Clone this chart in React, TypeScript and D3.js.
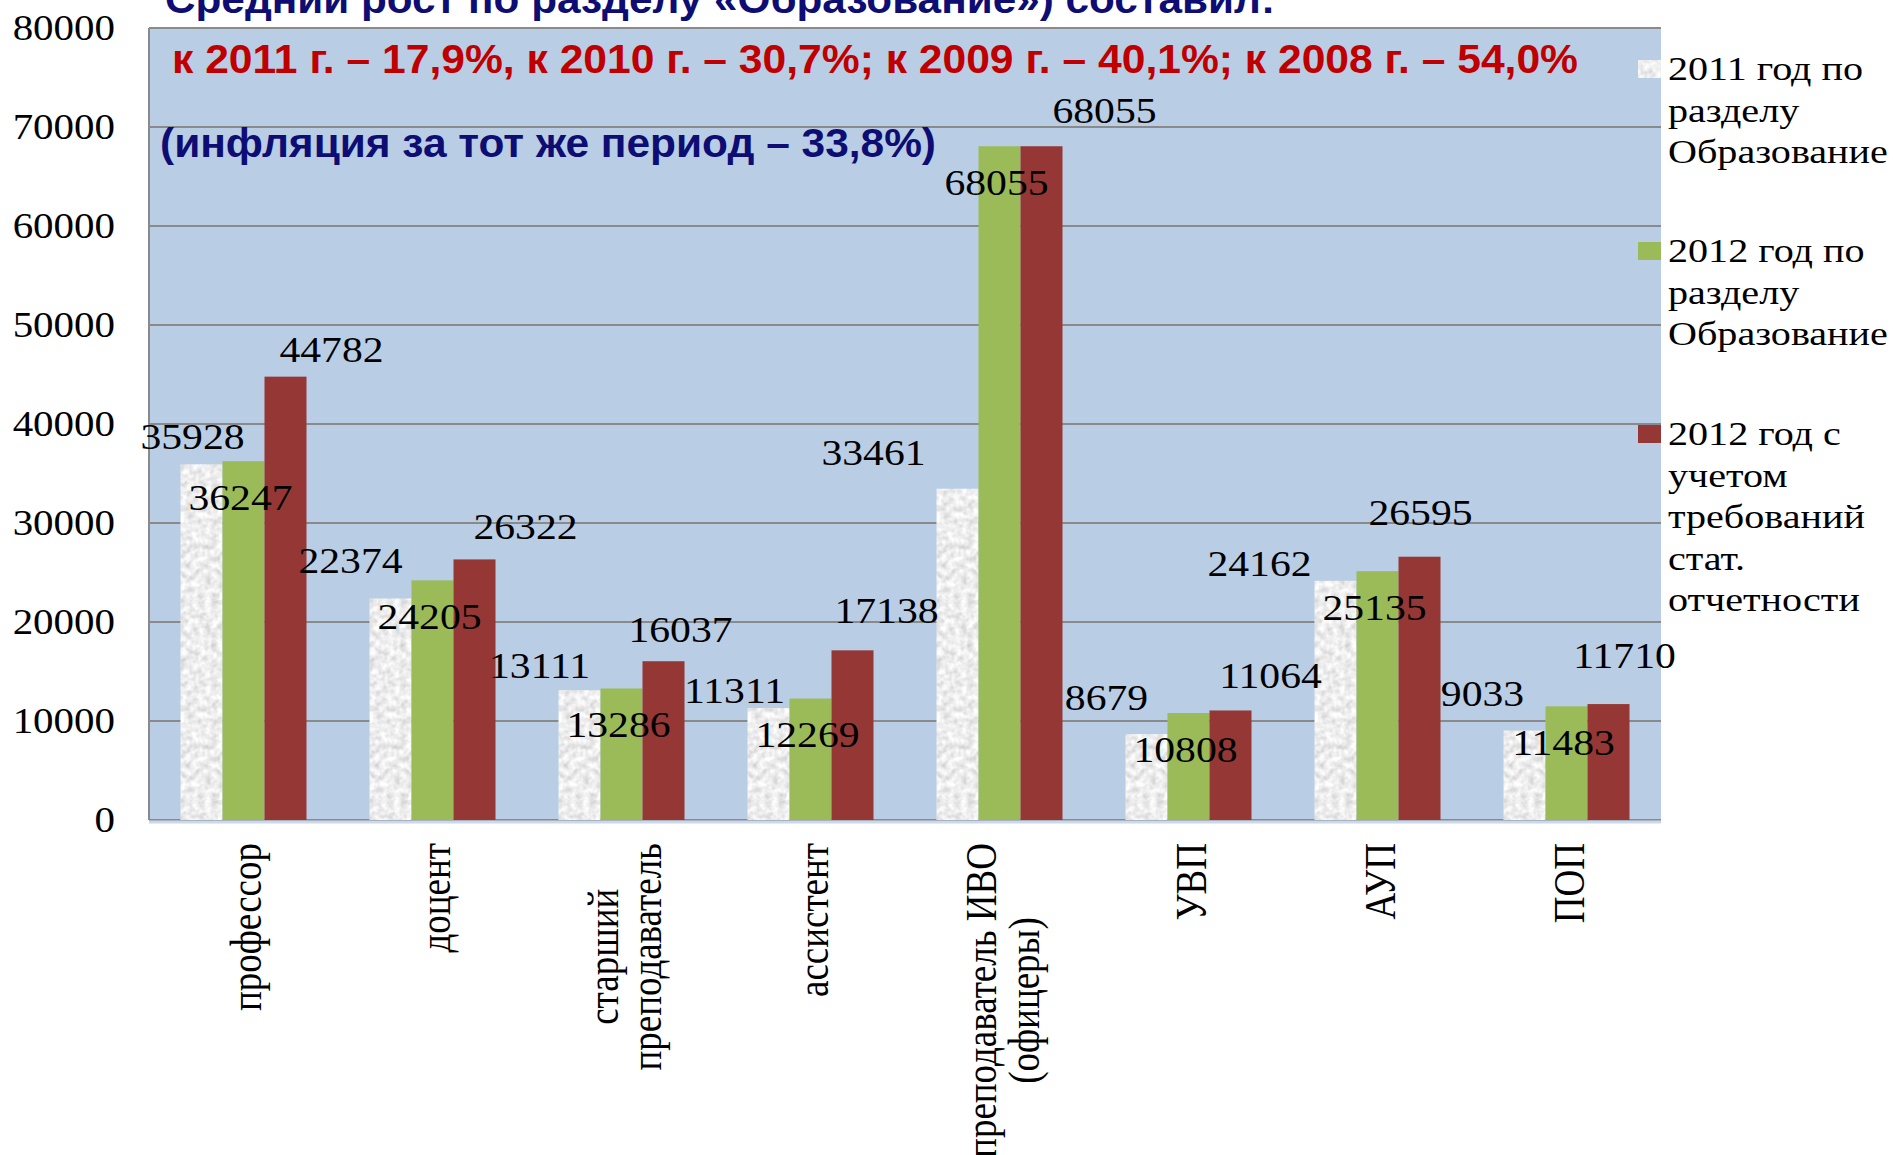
import React from "react";
import * as d3 from "d3";

// ---------- data ----------
const categories = [
  "профессор",
  "доцент",
  "старший\nпреподаватель",
  "ассистент",
  "преподаватель ИВО\n(офицеры)",
  "УВП",
  "АУП",
  "ПОП",
];
const seriesKeys = ["s2011", "s2012", "s2012stat"];
const seriesNames = [
  "2011 год по\nразделу\nОбразование",
  "2012 год по\nразделу\nОбразование",
  "2012 год с\nучетом\nтребований\nстат.\nотчетности",
];
const values2011 = [35928, 22374, 13111, 11311, 33461, 8679, 24162, 9033];
const values2012 = [36247, 24205, 13286, 12269, 68055, 10808, 25135, 11483];
const values2012stat = [44782, 26322, 16037, 17138, 68055, 11064, 26595, 11710];
const yTicks = [0, 10000, 20000, 30000, 40000, 50000, 60000, 70000, 80000];

const titleLine1 = "Средний рост по разделу «Образование») составил:";
const titleLine2 = "к 2011 г. – 17,9%, к 2010 г. – 30,7%; к 2009 г. – 40,1%; к 2008 г. – 54,0%";
const titleLine3 = "(инфляция за тот же период – 33,8%)";

// label nudges (annotation layout, px relative to bar centre / bar top)
const nudge2011 = [[-9, -27], [-40, -37], [-40, -24], [-34, -17], [-84, -36], [-40, -36], [-76, -17], [-42, -36]];
const nudge2012 = [-3, 37];
const nudgeStat = [[46, -27], [51, -32], [17, -31], [34, -39], [63, -35], [40, -34], [1, -44], [16, -48]];

const seriesValues = [values2011, values2012, values2012stat];

// ---------- layout ----------
const W = 1893, H = 1155;
const PL = 149, PR = 1661, PT = 28, PB = 820;
const SERIF = "'Liberation Serif', 'Times New Roman', serif";
const SANS = "'Liberation Sans', Arial, sans-serif";
const colors = ["url(#granite)", "#9BBB59", "#953735"];
const SX = 1.19;

function measure(text: string, font: string) {
  const c = document.createElement("canvas").getContext("2d");
  if (!c) return text.length * 16;
  c.font = font;
  return c.measureText(text).width;
}

export default function App() {
  const y = d3.scaleLinear().domain([0, 80000]).range([PB, PT]);
  const x0 = d3.scaleBand<string>().domain(categories).range([PL, PR]);
  const bw = x0.bandwidth();
  const x1 = d3.scaleBand<string>().domain(seriesKeys).range([bw / 6, (bw * 5) / 6]);
  const barW = x1.bandwidth();

  const catFont = 37;
  const catY = 843;

  return (
    <svg width={W} height={H} style={{ position: "absolute", left: 0, top: 0, background: "#fff" }}>
      <defs>
        <filter id="graniteF" x="0" y="0" width="1" height="1">
          <feTurbulence type="fractalNoise" baseFrequency="0.16" numOctaves="2" seed="4" result="n" />
          <feColorMatrix
            in="n"
            type="matrix"
            values="0.6 0 0 0 0.55  0.6 0 0 0 0.55  0.6 0 0 0 0.55  0 0 0 0 1"
          />
        </filter>
        <pattern id="granite" patternUnits="userSpaceOnUse" width="200" height="200">
          <rect width="200" height="200" fill="#fff" filter="url(#graniteF)" />
        </pattern>
      </defs>

      {/* plot background */}
      <rect x={PL} y={PT} width={PR - PL} height={PB - PT} fill="#B9CDE5" />
      {/* gridlines */}
      {yTicks.map((t) => (
        <line key={t} x1={PL} x2={PR} y1={y(t)} y2={y(t)} stroke="#8A8A8A" strokeWidth={2} />
      ))}
      <line x1={PL} x2={PL} y1={PT} y2={PB} stroke="#8A8A8A" strokeWidth={2} />
      <line x1={PL} x2={PR} y1={PB + 2} y2={PB + 2} stroke="#C9D8EC" strokeWidth={3} />

      {/* y tick labels */}
      {yTicks.map((t) => (
        <text
          key={t}
          transform={`translate(115,${y(t)}) scale(1.17,1)`}
          textAnchor="end"
          dy="0.34em"
          fontFamily={SERIF}
          fontSize={35}
          fill="#000"
        >
          {t}
        </text>
      ))}

      {/* bars */}
      {categories.map((c, i) => (
        <g key={c} transform={`translate(${x0(c)},0)`}>
          {seriesKeys.map((k, s) => {
            const v = seriesValues[s][i];
            return (
              <rect
                key={k}
                x={x1(k)}
                y={y(v)}
                width={barW}
                height={y(0) - y(v)}
                fill={colors[s]}
              />
            );
          })}
        </g>
      ))}

      {/* data labels */}
      {categories.map((c, i) =>
        seriesKeys.map((k, s) => {
          const v = seriesValues[s][i];
          const cx = (x0(c) as number) + (x1(k) as number) + barW / 2;
          const top = y(v);
          const nd = s === 0 ? nudge2011[i] : s === 1 ? nudge2012 : nudgeStat[i];
          return (
            <text
              key={c + k}
              transform={`translate(${cx + nd[0]},${top + nd[1]}) scale(${SX},1)`}
              textAnchor="middle"
              dy="0.34em"
              fontFamily={SERIF}
              fontSize={35}
              fill="#000"
            >
              {v}
            </text>
          );
        })
      )}

      {/* category labels (rotated) */}
      {categories.map((c) => {
        const lines = c.split("\n");
        const maxLen = Math.max(...lines.map((l) => measure(l, `${catFont}px ${SERIF}`)));
        const cx = (x0(c) as number) + bw / 2 + 3;
        const cy = catY + maxLen / 2;
        return (
          <g key={c} transform={`translate(${cx},${cy}) scale(${SX},1) rotate(-90)`}>
            {lines.map((l, li) => (
              <text
                key={li}
                x={0}
                y={((li - (lines.length - 1) / 2) * 43) / SX}
                textAnchor="middle"
                dominantBaseline="central"
                fontFamily={SERIF}
                fontSize={catFont}
                fill="#000"
              >
                {l}
              </text>
            ))}
          </g>
        );
      })}

      {/* legend */}
      {seriesNames.map((name, s) => {
        const firstBase = [80, 262, 445][s];
        const lines = name.split("\n");
        return (
          <g key={s}>
            <rect x={1638} y={firstBase - 20} width={23} height={18} fill={colors[s]} />
            {lines.map((l, li) => (
              <text
                key={li}
                transform={`translate(1668,${firstBase + li * 41.5}) scale(1.18,1)`}
                fontFamily={SERIF}
                fontSize={34}
                fill="#000"
              >
                {l}
              </text>
            ))}
          </g>
        );
      })}

      {/* overlaid headline texts */}
      <text x={165} y={13} fontFamily={SANS} fontWeight="bold" fontSize={41} fill="#0D0D74" textLength={1110} lengthAdjust="spacingAndGlyphs">
        {titleLine1}
      </text>
      <text x={172} y={73} fontFamily={SANS} fontWeight="bold" fontSize={41} fill="#C00000" textLength={1406} lengthAdjust="spacingAndGlyphs">
        {titleLine2}
      </text>
      <text x={160} y={157} fontFamily={SANS} fontWeight="bold" fontSize={41} fill="#0D0D74" textLength={776} lengthAdjust="spacingAndGlyphs">
        {titleLine3}
      </text>
    </svg>
  );
}
